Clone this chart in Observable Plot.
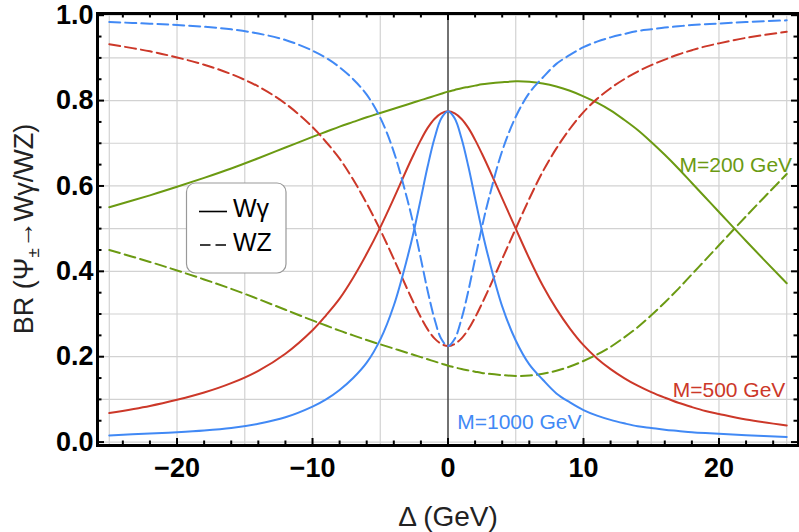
<!DOCTYPE html>
<html>
<head>
<meta charset="utf-8">
<script src="https://cdn.jsdelivr.net/npm/d3@7"></script>
<script src="https://cdn.jsdelivr.net/npm/@observablehq/plot@0.6"></script>
<style>
  html, body { margin: 0; padding: 0; background: #fff; }
  #chart { position: relative; width: 799px; height: 532px; }
</style>
</head>
<body>
<div id="chart"></div>
<script>
// Δ values (GeV)
const delta = [-25,-22,-20,-18,-16,-14,-12,-10,-9,-8,-7,-6,-5,-4,-3,-2.5,-2,-1.5,-1,-0.5,0,0.5,1,1.5,2,2.5,3,4,5,6,7,8,9,10,11,12,13,14,15,16,17,18,19,20,22,25];

// M = 1000 GeV
const m1000_Wgamma = [0.0157,0.020,0.023,0.027,0.033,0.043,0.058,0.083,0.100,0.122,0.150,0.186,0.240,0.320,0.432,0.497,0.571,0.646,0.711,0.758,0.775,0.758,0.711,0.646,0.571,0.497,0.431,0.318,0.238,0.182,0.146,0.114,0.093,0.075,0.062,0.052,0.044,0.037,0.033,0.029,0.026,0.023,0.021,0.0195,0.016,0.012];
const m1000_WZ = [0.9843,0.980,0.977,0.973,0.967,0.957,0.942,0.917,0.900,0.878,0.850,0.814,0.760,0.680,0.568,0.503,0.429,0.354,0.289,0.242,0.225,0.242,0.289,0.354,0.429,0.503,0.569,0.682,0.762,0.818,0.854,0.886,0.907,0.925,0.938,0.948,0.956,0.963,0.967,0.971,0.974,0.977,0.979,0.9805,0.984,0.988];

// M = 500 GeV
const m500_Wgamma = [0.068,0.0846,0.099,0.116,0.138,0.167,0.207,0.262,0.297,0.336,0.385,0.441,0.503,0.571,0.642,0.676,0.708,0.736,0.757,0.770,0.775,0.770,0.757,0.736,0.708,0.676,0.642,0.571,0.500,0.430,0.366,0.312,0.266,0.227,0.196,0.171,0.150,0.132,0.117,0.104,0.092,0.082,0.073,0.066,0.053,0.039];
const m500_WZ = [0.932,0.9154,0.901,0.884,0.862,0.833,0.793,0.738,0.703,0.664,0.615,0.559,0.497,0.429,0.358,0.324,0.292,0.264,0.243,0.230,0.225,0.230,0.243,0.264,0.292,0.324,0.358,0.429,0.500,0.570,0.634,0.688,0.734,0.773,0.804,0.829,0.850,0.868,0.883,0.896,0.908,0.918,0.927,0.934,0.947,0.961];

// M = 200 GeV
const m200_Wgamma = [0.550,0.578,0.598,0.619,0.641,0.665,0.690,0.715,0.727,0.739,0.750,0.761,0.771,0.781,0.791,0.796,0.801,0.806,0.811,0.816,0.821,0.825,0.829,0.832,0.835,0.838,0.840,0.843,0.845,0.844,0.840,0.833,0.823,0.810,0.795,0.777,0.755,0.731,0.703,0.673,0.641,0.607,0.573,0.539,0.471,0.372];
const m200_WZ = [0.450,0.422,0.402,0.381,0.359,0.335,0.310,0.285,0.273,0.261,0.250,0.239,0.229,0.219,0.209,0.204,0.199,0.194,0.189,0.184,0.179,0.175,0.171,0.168,0.165,0.162,0.160,0.157,0.155,0.156,0.160,0.167,0.177,0.190,0.205,0.223,0.245,0.269,0.297,0.327,0.359,0.393,0.427,0.461,0.529,0.628];

// ticks and grid
const gridX = [-25,-20,-15,-10,-5,0,5,10,15,20,25];
const gridY = [0,0.1,0.2,0.3,0.4,0.5,0.6,0.7,0.8,0.9,1.0];
const xMajor = [-20,-10,0,10,20];
const xMinor = [-24,-22,-18,-16,-14,-12,-8,-6,-4,-2,2,4,6,8,12,14,16,18,22,24];
const yMajor = [0,0.2,0.4,0.6,0.8,1.0];
const yMinor = [0.05,0.1,0.15,0.25,0.3,0.35,0.45,0.5,0.55,0.65,0.7,0.75,0.85,0.9,0.95];

// curve labels
const label200 = [{text: "M=200 GeV", x: 25.4, y: 0.632}];
const label500 = [{text: "M=500 GeV", x: 24.9, y: 0.105}];
const label1000 = [{text: "M=1000 GeV", x: 0.68, y: 0.031}];

const colors = {m200: "#6b9a12", m500: "#cc3829", m1000: "#4189f5"};

const rows = arr => delta.map((x, i) => ({x, y: arr[i]}));

const W = 799, H = 532;
const mL = 97, mR = 1, mT = 13, mB = 87;
const pw = W - mL - mR, ph = H - mT - mB;
const font = "'Liberation Sans', Arial, Helvetica, sans-serif";

const solid = (arr, c) => Plot.line(rows(arr), {x: "x", y: "y", stroke: c, strokeWidth: 2, curve: "catmull-rom"});
const dashed = (arr, c) => Plot.line(rows(arr), {x: "x", y: "y", stroke: c, strokeWidth: 2, strokeDasharray: "11,5", curve: "catmull-rom"});

const svg = Plot.plot({
  width: W, height: H,
  marginLeft: mL, marginRight: mR, marginTop: mT, marginBottom: mB,
  style: {fontFamily: font, background: "white", overflow: "visible"},
  x: {domain: [-25.87, 25.87]},
  y: {domain: [-0.008, 1.004]},
  marks: [
    Plot.ruleX(gridX, {stroke: "#d2d2d2", strokeWidth: 1.2}),
    Plot.ruleY(gridY, {stroke: "#d2d2d2", strokeWidth: 1.2}),
    Plot.ruleX([0], {stroke: "black", strokeWidth: 1}),
    dashed(m200_WZ, colors.m200),
    solid(m200_Wgamma, colors.m200),
    dashed(m500_WZ, colors.m500),
    solid(m500_Wgamma, colors.m500),
    dashed(m1000_WZ, colors.m1000),
    solid(m1000_Wgamma, colors.m1000),
    Plot.text(label200, {x: "x", y: "y", text: "text", fill: colors.m200, textAnchor: "end", lineAnchor: "bottom", fontSize: 21}),
    Plot.text(label500, {x: "x", y: "y", text: "text", fill: colors.m500, textAnchor: "end", lineAnchor: "bottom", fontSize: 21}),
    Plot.text(label1000, {x: "x", y: "y", text: "text", fill: colors.m1000, textAnchor: "start", lineAnchor: "bottom", fontSize: 21}),
    // ticks (inward) on all four sides
    Plot.ruleX(xMajor, {insetTop: ph - 7, stroke: "black", strokeWidth: 2}),
    Plot.ruleX(xMinor, {insetTop: ph - 4.5, stroke: "black", strokeWidth: 2}),
    Plot.ruleX(xMajor, {insetBottom: ph - 7, stroke: "black", strokeWidth: 2}),
    Plot.ruleX(xMinor, {insetBottom: ph - 4.5, stroke: "black", strokeWidth: 2}),
    Plot.ruleY(yMajor, {insetRight: pw - 7, stroke: "black", strokeWidth: 2}),
    Plot.ruleY(yMinor, {insetRight: pw - 4.5, stroke: "black", strokeWidth: 2}),
    Plot.ruleY(yMajor, {insetLeft: pw - 7, stroke: "black", strokeWidth: 2}),
    Plot.ruleY(yMinor, {insetLeft: pw - 4.5, stroke: "black", strokeWidth: 2}),
    Plot.frame({stroke: "black", strokeWidth: 3}),
    Plot.axisX({ticks: xMajor, tickSize: 0, tickPadding: 12, fontSize: 27, fontWeight: "bold", label: null}),
    Plot.axisY({ticks: yMajor, tickSize: 0, tickPadding: 4, fontSize: 27, fontWeight: "bold", label: null, tickFormat: d => d.toFixed(1)}),
    Plot.text(["Δ (GeV)"], {frameAnchor: "bottom", dy: 80, lineAnchor: "bottom", fontSize: 28, fill: "#222"})
  ]
});

document.getElementById("chart").appendChild(svg);

const s = d3.select(svg);
// y-axis label with subscript
const yl = s.append("text")
  .attr("transform", `translate(33,${mT + ph / 2}) rotate(-90)`)
  .attr("text-anchor", "middle")
  .attr("font-family", font)
  .attr("font-size", 27)
  .attr("fill", "#222");
yl.append("tspan").text("BR (Ψ");
yl.append("tspan").attr("dy", 6).attr("font-size", 17).text("±");
yl.append("tspan").attr("dy", -6).text("→Wγ/WZ)");

// legend box
const lg = s.append("g").attr("text-anchor", "start");
lg.append("rect").attr("x", 186.5).attr("y", 183).attr("width", 99.5).attr("height", 90)
  .attr("rx", 9).attr("fill", "white").attr("stroke", "#999").attr("stroke-width", 1.2);
lg.append("line").attr("x1", 199).attr("x2", 227).attr("y1", 211.5).attr("y2", 211.5)
  .attr("stroke", "black").attr("stroke-width", 1.6);
lg.append("line").attr("x1", 200).attr("x2", 226).attr("y1", 245).attr("y2", 245)
  .attr("stroke", "black").attr("stroke-width", 1.6).attr("stroke-dasharray", "10.5,5");
lg.append("text").attr("x", 233).attr("y", 216.5).attr("text-anchor", "start").attr("font-family", font).attr("font-size", 25).text("Wγ");
lg.append("text").attr("x", 233).attr("y", 251).attr("text-anchor", "start").attr("font-family", font).attr("font-size", 25).text("WZ");
</script>
</body>
</html>
